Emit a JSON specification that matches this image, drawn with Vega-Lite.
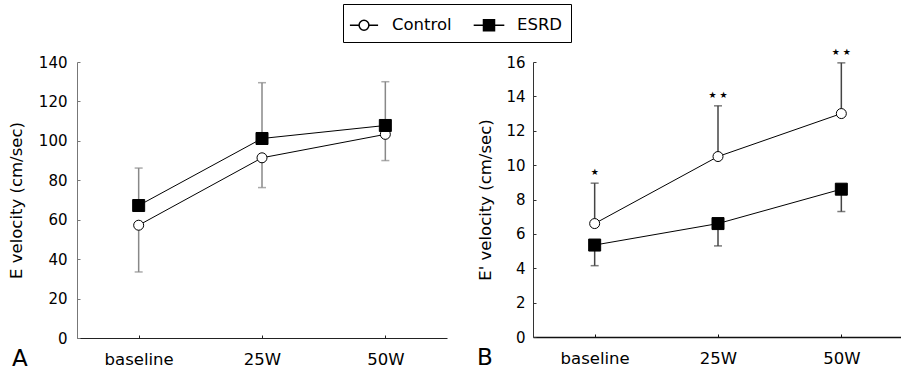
{
  "$schema": "https://vega.github.io/schema/vega-lite/v6.json",
  "padding": {"left": 8, "top": 3, "right": 0, "bottom": 0},
  "bounds": "flush",
  "spacing": 86,
  "resolve": {"scale": {"fill": "independent", "shape": "independent", "size": "independent"}, "legend": {"fill": "independent", "shape": "independent", "size": "independent"}},
  "config": {
    "view": {"stroke": null},
    "font": "DejaVu Sans",
    "axis": {"grid": false, "labelFont": "DejaVu Sans", "titleFont": "DejaVu Sans", "labelColor": "black", "titleColor": "black", "titleFontWeight": "normal"},
    "title": {"font": "DejaVu Sans", "fontWeight": "normal", "color": "black"}
  },
  "hconcat": [
    {
      "width": 370,
      "height": 276,
      "title": {"text": "A", "orient": "bottom", "anchor": "start", "frame": "group", "dx": -65, "dy": -24, "fontSize": 23},
      "data": {"values": [
        {"time": "baseline", "series": "Control", "mean": 57.2, "end": 33.5},
        {"time": "baseline", "series": "ESRD", "mean": 67.2, "end": 86.2},
        {"time": "25W", "series": "Control", "mean": 91.4, "end": 76.3},
        {"time": "25W", "series": "ESRD", "mean": 101.2, "end": 129.5},
        {"time": "50W", "series": "Control", "mean": 103.3, "end": 90.0},
        {"time": "50W", "series": "ESRD", "mean": 107.8, "end": 130.0}
      ]},
      "resolve": {"scale": {"fill": "independent", "shape": "independent", "size": "independent"}, "legend": {"fill": "independent", "shape": "independent", "size": "independent"}},
      "encoding": {
        "x": {"field": "time", "type": "ordinal", "sort": ["baseline", "25W", "50W"], "scale": {"type": "point", "padding": 0.5},
          "axis": {"title": null, "labelAngle": 0, "labelFontSize": 16.5, "labelPadding": 16, "tickSize": -3, "domainColor": "#222", "tickColor": "#222"}},
        "y": {"field": "mean", "type": "quantitative", "scale": {"domain": [0, 140], "nice": false},
          "axis": {"title": "E velocity (cm/sec)", "values": [0, 20, 40, 60, 80, 100, 120, 140], "tickSize": -3, "labelPadding": 13, "labelFontSize": 15, "titleFontSize": 16.5, "titlePadding": 14, "domainColor": "#777", "tickColor": "#777"}}
      },
      "layer": [
        {"mark": {"type": "rule", "color": "#888", "strokeWidth": 1.5}, "encoding": {"y2": {"field": "end"}}},
        {"mark": {"type": "tick", "color": "#888", "thickness": 1.5, "size": 8, "orient": "horizontal"},
          "encoding": {"y": {"field": "end", "type": "quantitative",
            "axis": {"title": "E velocity (cm/sec)", "values": [0, 20, 40, 60, 80, 100, 120, 140], "tickSize": -3, "labelPadding": 13, "labelFontSize": 15, "titleFontSize": 16.5, "titlePadding": 14, "domainColor": "#777", "tickColor": "#777"}}}},
        {"mark": {"type": "line", "color": "black", "strokeWidth": 1}, "encoding": {"detail": {"field": "series"}}},
        {"mark": {"type": "point", "filled": true, "stroke": "black", "strokeWidth": 1, "opacity": 1},
          "encoding": {
            "shape": {"field": "series", "type": "nominal", "scale": {"domain": ["Control", "ESRD"], "range": ["circle", "square"]}, "legend": null},
            "size": {"field": "series", "type": "ordinal", "scale": {"domain": ["Control", "ESRD"], "range": [100, 144]}, "legend": null},
            "fill": {"field": "series", "type": "nominal", "scale": {"domain": ["Control", "ESRD"], "range": ["white", "black"]}, "legend": null}
          }},
        {"transform": [{"filter": "false"}],
          "mark": {"type": "point", "filled": true, "stroke": "black", "strokeWidth": 1, "opacity": 1, "size": 600},
          "encoding": {
            "shape": {"field": "series", "type": "nominal", "scale": {"domain": ["Control", "ESRD"], "range": ["M-1.15,0H-0.4M0.4,0H1.15M-0.4,0A0.4,0.4,0,1,1,0.4,0A0.4,0.4,0,1,1,-0.4,0Z", "M-1.25,0H-0.45M0.45,0H1.25M-0.45,-0.45H0.45V0.45H-0.45Z"]},
              "legend": {"title": null, "orient": "none", "legendX": 266, "legendY": -58, "direction": "horizontal", "strokeColor": "black", "padding": 8, "labelFontSize": 16.5, "labelFont": "DejaVu Sans", "labelColor": "black", "symbolSize": 600, "labelOffset": 15, "columnPadding": 18,
                "encode": {"symbols": {"update": {"stroke": {"value": "black"}, "strokeWidth": {"value": 1}, "opacity": {"value": 1}}}}}},
            "fill": {"field": "series", "type": "nominal", "scale": {"domain": ["Control", "ESRD"], "range": ["white", "black"]},
              "legend": {"title": null, "orient": "none", "legendX": 266, "legendY": -58, "direction": "horizontal", "strokeColor": "black", "padding": 8, "labelFontSize": 16.5, "labelFont": "DejaVu Sans", "labelColor": "black", "symbolSize": 600, "labelOffset": 15, "columnPadding": 18}}
          }}
      ]
    },
    {
      "width": 370,
      "height": 275,
      "title": {"text": "B", "orient": "bottom", "anchor": "start", "frame": "group", "dx": -56, "dy": -24, "fontSize": 23},
      "data": {"values": [
        {"time": "baseline", "series": "Control", "mean": 6.6, "end": 8.95, "sig": "★"},
        {"time": "baseline", "series": "ESRD", "mean": 5.35, "end": 4.15},
        {"time": "25W", "series": "Control", "mean": 10.5, "end": 13.45, "sig": "★ ★"},
        {"time": "25W", "series": "ESRD", "mean": 6.6, "end": 5.3},
        {"time": "50W", "series": "Control", "mean": 13.0, "end": 15.95, "sig": "★ ★"},
        {"time": "50W", "series": "ESRD", "mean": 8.6, "end": 7.3}
      ]},
      "encoding": {
        "x": {"field": "time", "type": "ordinal", "sort": ["baseline", "25W", "50W"], "scale": {"type": "point", "padding": 0.5},
          "axis": {"title": null, "labelAngle": 0, "labelFontSize": 16.5, "labelPadding": 16, "tickSize": -3, "domainColor": "#111", "tickColor": "#111", "domainWidth": 1.5}},
        "y": {"field": "mean", "type": "quantitative", "scale": {"domain": [0, 16], "nice": false},
          "axis": {"title": "E' velocity (cm/sec)", "values": [0, 2, 4, 6, 8, 10, 12, 14, 16], "tickSize": -3, "labelPadding": 11, "labelFontSize": 15, "titleFontSize": 16.5, "titlePadding": 12, "domainColor": "#333", "tickColor": "#333"}}
      },
      "layer": [
        {"mark": {"type": "rule", "color": "#444", "strokeWidth": 1.5}, "encoding": {"y2": {"field": "end"}}},
        {"mark": {"type": "tick", "color": "#444", "thickness": 1.5, "size": 8, "orient": "horizontal"},
          "encoding": {"y": {"field": "end", "type": "quantitative",
            "axis": {"title": "E' velocity (cm/sec)", "values": [0, 2, 4, 6, 8, 10, 12, 14, 16], "tickSize": -3, "labelPadding": 11, "labelFontSize": 15, "titleFontSize": 16.5, "titlePadding": 12, "domainColor": "#333", "tickColor": "#333"}}}},
        {"mark": {"type": "line", "color": "black", "strokeWidth": 1}, "encoding": {"detail": {"field": "series"}}},
        {"mark": {"type": "point", "filled": true, "stroke": "black", "strokeWidth": 1, "opacity": 1},
          "encoding": {
            "shape": {"field": "series", "type": "nominal", "scale": {"domain": ["Control", "ESRD"], "range": ["circle", "square"]}, "legend": null},
            "size": {"field": "series", "type": "ordinal", "scale": {"domain": ["Control", "ESRD"], "range": [100, 144]}, "legend": null},
            "fill": {"field": "series", "type": "nominal", "scale": {"domain": ["Control", "ESRD"], "range": ["white", "black"]}, "legend": null}
          }},
        {"transform": [{"filter": "isValid(datum.sig)"}],
          "mark": {"type": "text", "dy": -11, "fontSize": 9, "baseline": "middle", "color": "black"},
          "encoding": {"y": {"field": "end", "type": "quantitative"}, "text": {"field": "sig"}}}
      ]
    }
  ]
}
